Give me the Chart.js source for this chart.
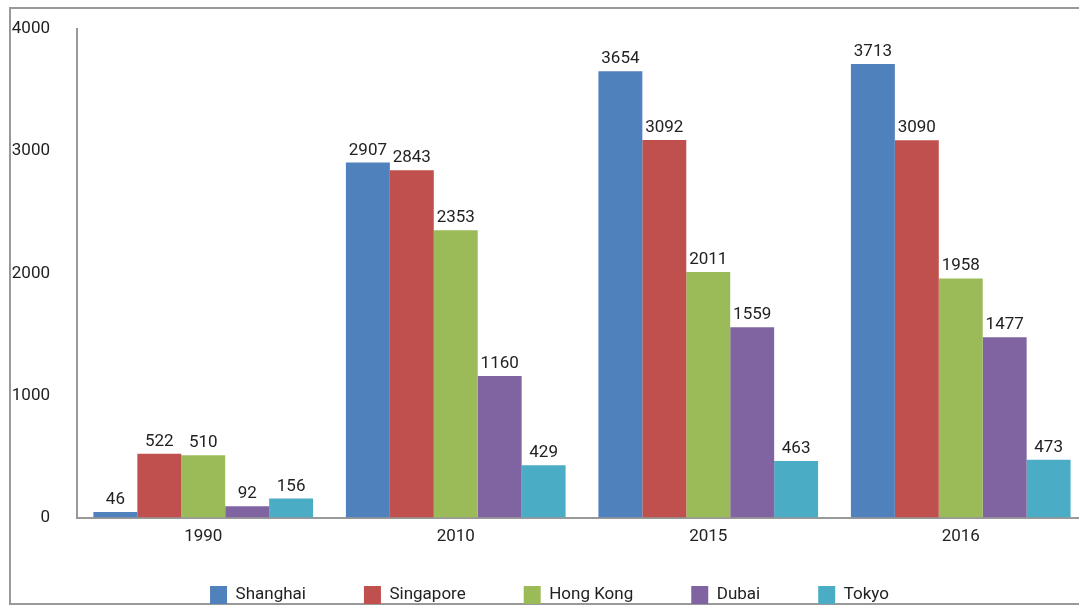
<!DOCTYPE html>
<html>
<head>
<meta charset="utf-8">
<script src="https://cdn.jsdelivr.net/npm/chart.js@4"></script>
<style>
    body { margin: 0; background: #fff; overflow: hidden; }
    #frame {
        position: absolute; left: 9px; top: 7px; width: 1200px; height: 594px;
        border: 2px solid #999; border-right: none;
    }
    #myCityChart { position: absolute; left: 0; top: 0; }
</style>
</head>
<body>
<div id="frame"></div>
<canvas id="myCityChart" width="1096" height="606"></canvas>
<script>

const years = ["1990", "2010", "2015", "2016"];
const cities = ["Shanghai", "Singapore", "Hong Kong", "Dubai", "Tokyo"];

const shanghai = [46, 2907, 3654, 3713];
const singapore = [522, 2843, 3092, 3090];
const hongKong = [510, 2353, 2011, 1958];
const dubai = [92, 1160, 1559, 1477];
const tokyo = [156, 429, 463, 473];

const yTicks = [0, 1000, 2000, 3000, 4000];

const cityColors = ['#4F81BD', '#C0504D', '#9BBB59', '#8064A2', '#4BACC6'];

Chart.defaults.font.family = 'Roboto';
Chart.defaults.font.size = 17;
Chart.defaults.color = '#222';

const legendGap = 58;

// value written above each bar
const barValues = {
    id: 'barValues',
    afterDatasetsDraw(chart) {
        const ctx = chart.ctx;
        ctx.save();
        ctx.font = '17px Roboto';
        ctx.fillStyle = '#222';
        ctx.textAlign = 'center';
        ctx.textBaseline = 'alphabetic';
        chart.data.datasets.forEach((ds, i) => {
            chart.getDatasetMeta(i).data.forEach((bar, j) => {
                ctx.fillText(ds.data[j], bar.x, bar.y - 8);
            });
        });
        ctx.restore();
    }
};

// the legend padding is wide sideways, pull the row up so it sits near the bottom
const legendRow = {
    id: 'legendRow',
    afterLayout(chart) {
        chart.legend.top = 586 - legendGap;
    }
};

const seriesData = [shanghai, singapore, hongKong, dubai, tokyo];

const data = {
    labels: years,
    datasets: cities.map((city, i) => ({
        label: city,
        data: seriesData[i],
        backgroundColor: cityColors[i],
        categoryPercentage: 0.87,
        barPercentage: 1.0
    }))
};

const config = {
    type: 'bar',
    data: data,
    options: {
        responsive: false,
        animation: false,
        layout: {
            padding: { left: 12, right: 9, top: 29, bottom: 0 }
        },
        scales: {
            x: {
                grid: { display: false, drawTicks: false },
                border: { display: true, color: '#999', width: 2 },
                ticks: { padding: 9 }
            },
            y: {
                min: 0,
                max: 4000,
                grid: { display: false, drawTicks: false },
                border: { display: true, color: '#999', width: 2 },
                afterBuildTicks: (scale) => { scale.ticks = yTicks.map(v => ({ value: v })); },
                afterFit: (scale) => {
                    scale.width = 65;
                    scale.paddingTop = 0;
                },
                ticks: { padding: 27, callback: (v) => String(v) }
            }
        },
        plugins: {
            tooltip: { enabled: false },
            legend: {
                position: 'bottom',
                maxHeight: 50,
                labels: {
                    boxWidth: 17,
                    boxHeight: 18,
                    padding: legendGap,
                    color: '#222'
                }
            }
        }
    },
    plugins: [barValues, legendRow]
};

const myChart = new Chart(
    document.getElementById('myCityChart'),
    config
);

</script>
</body>
</html>
